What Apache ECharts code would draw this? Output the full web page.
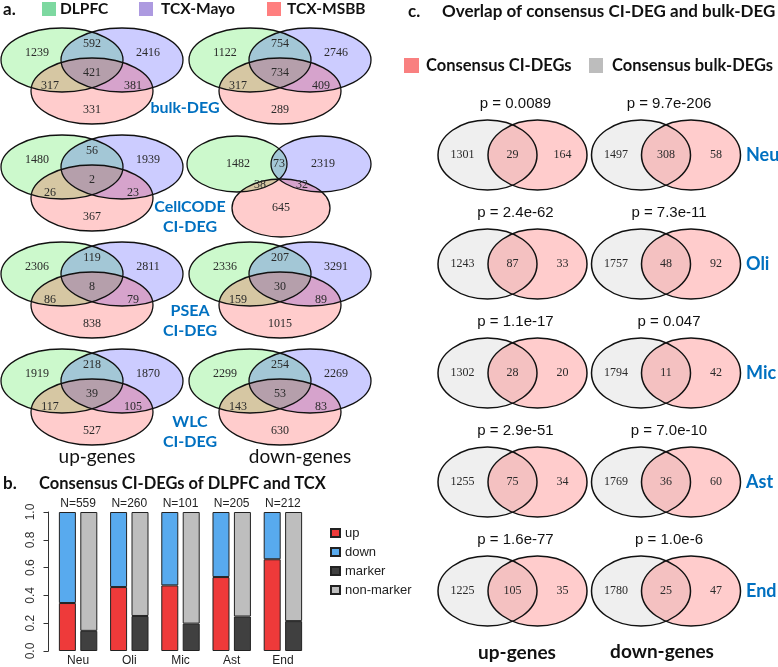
<!DOCTYPE html>
<html><head><meta charset="utf-8">
<script src="https://cdn.jsdelivr.net/npm/echarts@6/dist/echarts.min.js"></script>
<style>html,body{margin:0;padding:0;background:#fff}#c{width:778px;height:667px}</style>
</head><body><div id="c"></div>
<script>
// ================= DATA =================
// Panel a: Venn region counts, order:
// [DLPFC only, DLPFC∩Mayo, Mayo only, all three, DLPFC∩MSBB, Mayo∩MSBB, MSBB only]
const vennSets = ['DLPFC', 'TCX-Mayo', 'TCX-MSBB'];
const vennMethods = [['bulk-DEG'], ['CellCODE', 'CI-DEG'], ['PSEA', 'CI-DEG'], ['WLC', 'CI-DEG']];
const vennUpGenes = [
  [1239, 592, 2416, 421, 317, 381, 331],
  [1480, 56, 1939, 2, 26, 23, 367],
  [2306, 119, 2811, 8, 86, 79, 838],
  [1919, 218, 1870, 39, 117, 105, 527]
];
const vennDownGenes = [
  [1122, 754, 2746, 734, 317, 409, 289],
  [1482, 73, 2319, null, 38, 32, 645],
  [2336, 207, 3291, 30, 159, 89, 1015],
  [2299, 254, 2269, 53, 143, 83, 630]
];

// Panel b: consensus CI-DEG proportions
const barCategories = ['Neu', 'Oli', 'Mic', 'Ast', 'End'];
const barN = [559, 260, 101, 205, 212];
const upFrac = [0.345, 0.46, 0.472, 0.532, 0.66];
const downFrac = [0.655, 0.54, 0.528, 0.468, 0.34];
const markerFrac = [0.145, 0.252, 0.197, 0.248, 0.215];
const nonMarkerFrac = [0.855, 0.748, 0.803, 0.752, 0.785];

// Panel c: overlap of consensus CI-DEG and bulk-DEG
const overlapCellTypes = ['Neu', 'Oli', 'Mic', 'Ast', 'End'];
const upBulkOnly = [1301, 1243, 1302, 1255, 1225];
const upOverlap = [29, 87, 28, 75, 105];
const upCIOnly = [164, 33, 20, 34, 35];
const upP = ['0.0089', '2.4e-62', '1.1e-17', '2.9e-51', '1.6e-77'];
const downBulkOnly = [1497, 1757, 1794, 1769, 1780];
const downOverlap = [308, 48, 11, 36, 25];
const downCIOnly = [58, 92, 42, 60, 47];
const downP = ['9.7e-206', '7.3e-11', '0.047', '7.0e-10', '1.0e-6'];

// ================= LAYOUT =================
const W = 778, H = 667;
const BLUE = '#0070C0';
const HEAD = 'Lato, "Open Sans", sans-serif';
const SERIF = '"Liberation Serif", "DejaVu Serif", serif';
const SANS = '"Liberation Sans", Arial, sans-serif';

const A = { x0: 0, y0: 29, dx: 188, dy: 107 };
// ellipse [cx, cy, rx, ry] and label [x, y] offsets relative to a Venn cell origin
const VENN3 = {
  ell: [[62, 31, 61, 32], [122, 31, 61, 32], [92, 62, 61, 33]],
  lab: [[37, 24], [92, 15], [148, 24], [92, 44], [50, 57], [133, 57], [92, 81]]
};
const VENN3_SPLIT = {
  ell: [[49, 28, 50, 28], [133, 28, 50, 28], [93, 72, 49, 29]],
  lab: [[50, 28], [91, 28], [135, 28], [93, 50], [72, 49], [114, 49], [93, 72]]
};
const A_FILL = ['rgba(0,225,0,0.2)', 'rgba(0,0,255,0.2)', 'rgba(255,0,0,0.2)'];

const C = { gx: 487.5, dx: 153.5, cy0: 155, dy: 109, sep: 50, rx: 49.5, ry: 35 };

// build the Venn cells for panel a
const vennCellsA = [];
for (let r = 0; r < vennMethods.length; r++) {
  [vennUpGenes[r], vennDownGenes[r]].forEach((vals, c) => {
    vennCellsA.push({ x: A.x0 + c * A.dx, y: A.y0 + r * A.dy, vals: vals });
  });
}
const vennCellsC = [];
for (let r = 0; r < overlapCellTypes.length; r++) {
  vennCellsC.push({ col: 0, row: r, vals: [upBulkOnly[r], upOverlap[r], upCIOnly[r]], p: upP[r] });
  vennCellsC.push({ col: 1, row: r, vals: [downBulkOnly[r], downOverlap[r], downCIOnly[r]], p: downP[r] });
}

function txt(text, x, y, opt) {
  return {
    type: 'text',
    style: Object.assign({
      text: text, x: x, y: y, align: 'center', verticalAlign: 'middle',
      fontSize: 12, fontFamily: SERIF, fill: '#2a2a2a'
    }, opt || {})
  };
}

function renderVennA(params, api) {
  const cell = vennCellsA[params.dataIndex];
  const o = api.coord([cell.x, cell.y]);
  const geo = cell.vals[3] == null ? VENN3_SPLIT : VENN3;
  const children = [];
  geo.ell.forEach((e, k) => children.push({ type: 'ellipse', shape: { cx: o[0] + e[0], cy: o[1] + e[1], rx: e[2], ry: e[3] }, style: { fill: A_FILL[k], stroke: null } }));
  geo.ell.forEach((e) => children.push({ type: 'ellipse', shape: { cx: o[0] + e[0], cy: o[1] + e[1], rx: e[2], ry: e[3] }, style: { fill: null, stroke: '#111', lineWidth: 1.3 } }));
  cell.vals.forEach((v, k) => {
    if (v == null) return;
    children.push(txt(String(v), o[0] + geo.lab[k][0], o[1] + geo.lab[k][1]));
  });
  return { type: 'group', children: children };
}

function renderVennC(params, api) {
  const cell = vennCellsC[params.dataIndex];
  const gx = C.gx + cell.col * C.dx, cy = C.cy0 + cell.row * C.dy;
  const g = api.coord([gx, cy]);
  const p = api.coord([gx + C.sep, cy]);
  const children = [
    { type: 'ellipse', shape: { cx: g[0], cy: g[1], rx: C.rx, ry: C.ry }, style: { fill: '#efefef' } },
    { type: 'ellipse', shape: { cx: p[0], cy: p[1], rx: C.rx, ry: C.ry }, style: { fill: 'rgba(255,100,100,0.33)' } },
    { type: 'ellipse', shape: { cx: g[0], cy: g[1], rx: C.rx, ry: C.ry }, style: { fill: null, stroke: '#111', lineWidth: 1.5 } },
    { type: 'ellipse', shape: { cx: p[0], cy: p[1], rx: C.rx, ry: C.ry }, style: { fill: null, stroke: '#111', lineWidth: 1.5 } }
  ];
  children.push(txt(String(cell.vals[0]), g[0] - 25, g[1]));
  children.push(txt(String(cell.vals[1]), (g[0] + p[0]) / 2, g[1]));
  children.push(txt(String(cell.vals[2]), p[0] + 25, g[1]));
  children.push(txt('p = ' + cell.p, (g[0] + p[0]) / 2 + 3, g[1] - 51, { fontSize: 15, fontFamily: SANS, fill: '#111' }));
  if (cell.col === 1) {
    children.push(txt(overlapCellTypes[cell.row], p[0] + 55, g[1], { align: 'left', fontSize: 18, fontWeight: 'bold', fontFamily: HEAD, fill: BLUE }));
  }
  return { type: 'group', children: children };
}

// static text & legend swatches
function gText(text, x, y, opt) {
  const s = Object.assign({ text: text, x: x, y: y, fontFamily: HEAD, fontWeight: 'bold', fontSize: 16, fill: '#111', align: 'left', verticalAlign: 'middle' }, opt || {});
  s.textAlign = s.align; s.textVerticalAlign = s.verticalAlign;
  return { type: 'text', style: s, z: 10 };
}
function gRect(x, y, w, h, color) {
  return { type: 'rect', shape: { x: x, y: y, width: w, height: h }, style: { fill: color }, z: 10 };
}
const graphics = [
  gText('a.', 3, 10, { fontSize: 17 }),
  gRect(42, 2, 14, 14, '#7dd8a0'), gText(vennSets[0], 60, 9, { fontSize: 15.5 }),
  gRect(139, 2, 14, 14, '#ad9ae0'), gText(vennSets[1], 161, 9, { fontSize: 15.5 }),
  gRect(267, 2, 14, 14, '#ff7f7f'), gText(vennSets[2], 287, 9, { fontSize: 15.5 }),
  gText(vennMethods[0][0], 185, 108, { align: 'center', fill: BLUE }),
  gText(vennMethods[1][0], 190, 207, { align: 'center', fill: BLUE }),
  gText(vennMethods[1][1], 190, 227, { align: 'center', fill: BLUE }),
  gText(vennMethods[2][0], 190, 311, { align: 'center', fill: BLUE }),
  gText(vennMethods[2][1], 190, 331, { align: 'center', fill: BLUE }),
  gText(vennMethods[3][0], 190, 422, { align: 'center', fill: BLUE }),
  gText(vennMethods[3][1], 190, 442, { align: 'center', fill: BLUE }),
  gText('up-genes', 97, 457, { align: 'center', fontWeight: 'normal', fontSize: 19 }),
  gText('down-genes', 300, 457, { align: 'center', fontWeight: 'normal', fontSize: 19 }),
  gText('b.', 3, 484, { fontSize: 17 }),
  gText('Consensus CI-DEGs of DLPFC and TCX', 39, 484, { fontSize: 16.5 }),
  gText('c.', 408, 12, { fontSize: 17 }),
  gText('Overlap of consensus CI-DEG and bulk-DEG', 442, 12, { fontSize: 17 }),
  gRect(404, 58, 15, 15, '#f98080'), gText('Consensus CI-DEGs', 426, 66, { fontSize: 16.5 }),
  gRect(589, 58, 14, 15, '#bdbdbd'), gText('Consensus bulk-DEGs', 612, 66, { fontSize: 16.5 }),
  gText('up-genes', 517, 653, { align: 'center', fontSize: 19 }),
  gText('down-genes', 662, 652, { align: 'center', fontSize: 19 })
];

const barStyle = (color) => ({ color: color, borderColor: '#222', borderWidth: 1 });
const chart = echarts.init(document.getElementById('c'), null, { renderer: 'canvas' });
chart.setOption({
  animation: false,
  backgroundColor: '#fff',
  grid: [
    { left: 0, top: 0, width: W, height: H },
    { left: 52.5, top: 512, width: 256, height: 141 }
  ],
  xAxis: [
    { gridIndex: 0, type: 'value', min: 0, max: W, show: false },
    { gridIndex: 1, type: 'category', data: barCategories, axisLine: { show: false }, axisTick: { show: false },
      axisLabel: { margin: 4, fontSize: 12, fontFamily: SANS, color: '#222' } },
    { gridIndex: 1, type: 'category', position: 'top', data: barN.map(n => 'N=' + n), axisLine: { show: false }, axisTick: { show: false },
      axisLabel: { margin: 2, fontSize: 12, fontFamily: SANS, color: '#222' } }
  ],
  yAxis: [
    { gridIndex: 0, type: 'value', min: 0, max: H, inverse: true, show: false },
    { gridIndex: 1, type: 'value', min: 0, max: 1, interval: 0.2, offset: 4,
      axisLine: { show: true, lineStyle: { color: '#333', width: 1 } },
      axisTick: { show: true, length: 5, lineStyle: { color: '#333' } },
      splitLine: { show: false },
      axisLabel: { rotate: 90, margin: 12, fontSize: 12, fontFamily: SANS, color: '#333', formatter: v => v.toFixed(1) } }
  ],
  legend: {
    data: ['up', 'down', 'marker', 'non-marker'], orient: 'vertical', left: 325, top: 521,
    itemWidth: 9, itemHeight: 8, itemGap: 5, icon: 'rect',
    textStyle: { fontSize: 13, fontFamily: SANS, color: '#222', lineHeight: 14 }
  },
  graphic: graphics,
  series: [
    { type: 'custom', xAxisIndex: 0, yAxisIndex: 0, renderItem: renderVennA, data: vennCellsA.map(c => [c.x, c.y]), silent: true },
    { type: 'custom', xAxisIndex: 0, yAxisIndex: 0, renderItem: renderVennC, data: vennCellsC.map(c => [C.gx + c.col * C.dx, C.cy0 + c.row * C.dy]), silent: true },
    { name: 'up', type: 'bar', stack: 'ci', xAxisIndex: 1, yAxisIndex: 1, data: upFrac, barWidth: 17, barGap: '26%', itemStyle: barStyle('#ee3a3a') },
    { name: 'down', type: 'bar', stack: 'ci', xAxisIndex: 1, yAxisIndex: 1, data: downFrac, barWidth: 17, barGap: '26%', itemStyle: barStyle('#58aaee') },
    { name: 'marker', type: 'bar', stack: 'bulk', xAxisIndex: 1, yAxisIndex: 1, data: markerFrac, barWidth: 17, barGap: '26%', itemStyle: barStyle('#404040') },
    { name: 'non-marker', type: 'bar', stack: 'bulk', xAxisIndex: 1, yAxisIndex: 1, data: nonMarkerFrac, barWidth: 17, barGap: '26%', itemStyle: barStyle('#bebebe') }
  ]
});
</script>
</body></html>
